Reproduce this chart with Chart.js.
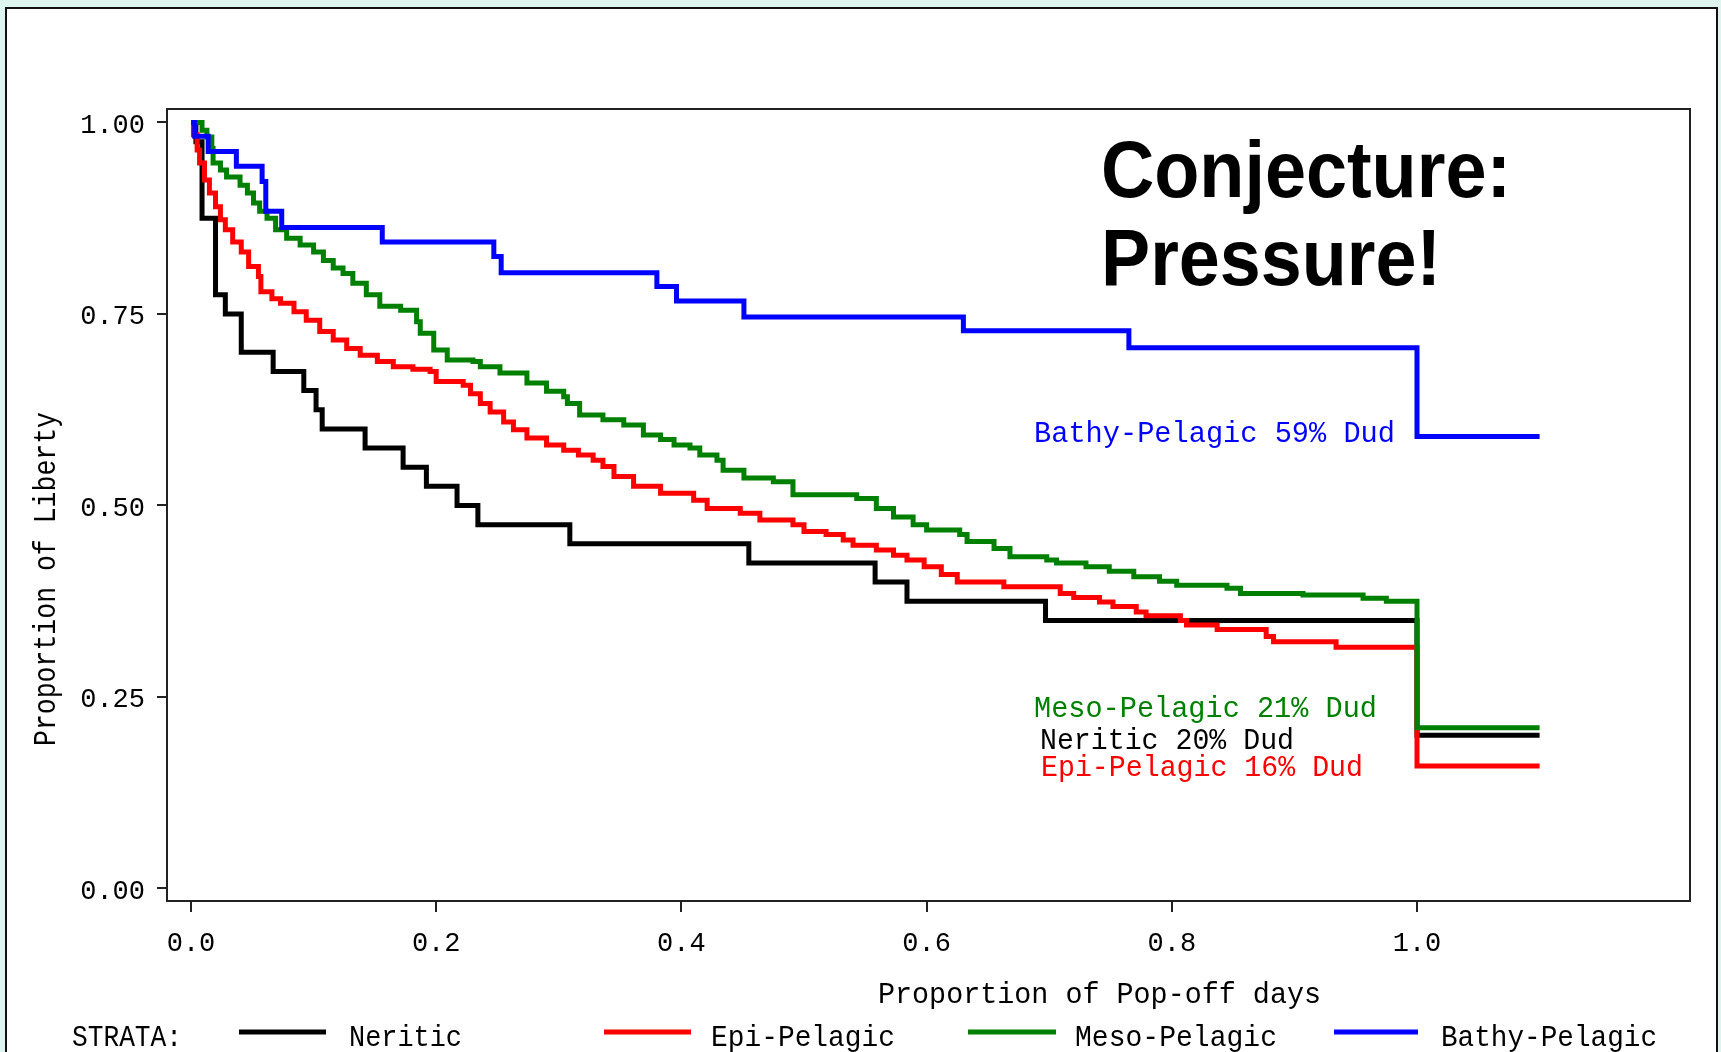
<!DOCTYPE html>
<html><head><meta charset="utf-8">
<script src="https://cdn.jsdelivr.net/npm/chart.js@4.4.1/dist/chart.umd.min.js"></script>
<style>html,body{margin:0;padding:0;background:#ddf4ef;overflow:hidden}
#wrap{position:relative;width:1721px;height:1052px}</style>
</head><body><div id="wrap"><canvas id="c" width="1721" height="1052"></canvas></div>
<script>
// ---------- data ----------
const strata = ['Neritic', 'Epi-Pelagic', 'Meso-Pelagic', 'Bathy-Pelagic'];
const strataColors = ['#000000', '#ff0000', '#008000', '#0000ff'];
const dudPct = [20, 16, 21, 59];
const xTickValues = [0, 0.2, 0.4, 0.6, 0.8, 1.0];
const yTickValues = [0, 0.25, 0.5, 0.75, 1.0];

const neriticT = [0, 0.004, 0.009, 0.020, 0.028, 0.041, 0.067, 0.092, 0.102, 0.107, 0.142, 0.173, 0.192, 0.217, 0.234, 0.309, 0.455, 0.558, 0.584, 0.697, 1.0, 1.1];
const neriticS = [1, 0.975, 0.875, 0.775, 0.75, 0.70, 0.675, 0.65, 0.625, 0.60, 0.575, 0.55, 0.525, 0.50, 0.475, 0.45, 0.425, 0.40, 0.375, 0.35, 0.20, 0.20];

const epiT = [0, 0.002, 0.005, 0.007, 0.011, 0.015, 0.020, 0.024, 0.028, 0.034, 0.041, 0.047, 0.055, 0.057, 0.066, 0.073, 0.084, 0.094, 0.105, 0.116, 0.127, 0.138, 0.152, 0.165, 0.181, 0.195, 0.200, 0.222, 0.228, 0.236, 0.244, 0.255, 0.263, 0.274, 0.290, 0.304, 0.316, 0.328, 0.336, 0.345, 0.361, 0.383, 0.410, 0.421, 0.448, 0.464, 0.491, 0.500, 0.518, 0.532, 0.540, 0.559, 0.573, 0.584, 0.598, 0.612, 0.625, 0.663, 0.709, 0.720, 0.741, 0.752, 0.771, 0.779, 0.807, 0.812, 0.837, 0.877, 0.883, 0.934, 1.0, 1.1];
const epiS = [1, 0.984, 0.964, 0.947, 0.925, 0.908, 0.890, 0.873, 0.860, 0.844, 0.831, 0.812, 0.799, 0.779, 0.770, 0.764, 0.753, 0.742, 0.727, 0.716, 0.705, 0.696, 0.688, 0.681, 0.678, 0.675, 0.662, 0.657, 0.646, 0.633, 0.622, 0.609, 0.599, 0.588, 0.579, 0.572, 0.566, 0.559, 0.551, 0.538, 0.525, 0.516, 0.507, 0.496, 0.490, 0.481, 0.475, 0.466, 0.462, 0.455, 0.448, 0.442, 0.435, 0.429, 0.420, 0.410, 0.400, 0.394, 0.385, 0.380, 0.374, 0.368, 0.361, 0.356, 0.350, 0.344, 0.338, 0.329, 0.322, 0.315, 0.16, 0.16];

const mesoT = [0, 0.009, 0.013, 0.017, 0.018, 0.024, 0.029, 0.040, 0.046, 0.051, 0.056, 0.062, 0.069, 0.078, 0.089, 0.100, 0.108, 0.116, 0.124, 0.132, 0.143, 0.154, 0.171, 0.184, 0.187, 0.198, 0.209, 0.230, 0.236, 0.252, 0.274, 0.290, 0.304, 0.307, 0.317, 0.336, 0.353, 0.369, 0.383, 0.394, 0.407, 0.415, 0.429, 0.434, 0.451, 0.475, 0.491, 0.543, 0.559, 0.573, 0.589, 0.600, 0.627, 0.633, 0.655, 0.668, 0.698, 0.706, 0.730, 0.749, 0.769, 0.790, 0.804, 0.845, 0.856, 0.907, 0.956, 0.975, 1.0, 1.1];
const mesoS = [1, 0.990, 0.981, 0.966, 0.947, 0.938, 0.929, 0.918, 0.908, 0.895, 0.884, 0.875, 0.860, 0.849, 0.840, 0.831, 0.820, 0.810, 0.803, 0.790, 0.775, 0.760, 0.755, 0.740, 0.725, 0.703, 0.690, 0.688, 0.681, 0.673, 0.660, 0.649, 0.642, 0.633, 0.618, 0.612, 0.605, 0.592, 0.586, 0.579, 0.575, 0.566, 0.559, 0.546, 0.536, 0.531, 0.514, 0.509, 0.496, 0.485, 0.475, 0.468, 0.462, 0.453, 0.444, 0.433, 0.429, 0.425, 0.420, 0.414, 0.407, 0.401, 0.396, 0.392, 0.385, 0.383, 0.379, 0.375, 0.21, 0.21];

const bathyT = [0, 0.003, 0.014, 0.037, 0.058, 0.061, 0.074, 0.156, 0.247, 0.253, 0.380, 0.396, 0.451, 0.630, 0.765, 1.0, 1.1];
const bathyS = [1, 0.982, 0.962, 0.943, 0.923, 0.884, 0.863, 0.844, 0.825, 0.804, 0.786, 0.767, 0.746, 0.728, 0.706, 0.590, 0.590];

const seriesT = [neriticT, epiT, mesoT, bathyT];
const seriesS = [neriticS, epiS, mesoS, bathyS];

// ---------- helpers ----------
function fitText(ctx, text, x, y, w, font, color, rot) {
  ctx.save();
  ctx.font = font; ctx.fillStyle = color;
  ctx.textBaseline = 'alphabetic'; ctx.textAlign = 'left';
  const m = ctx.measureText(text).width;
  ctx.translate(x, y);
  if (rot) ctx.rotate(rot);
  ctx.scale(w / m, 1);
  ctx.fillText(text, 0, 0);
  ctx.restore();
}
const MONO = '"Liberation Mono", "DejaVu Sans Mono", monospace';
const TXT = '29px ' + MONO;

const decorPlugin = {
  id: 'decor',
  beforeDraw(chart) {
    const ctx = chart.ctx;
    ctx.save();
    ctx.fillStyle = '#ddf4ef';
    ctx.fillRect(0, 0, chart.width, chart.height);
    ctx.fillStyle = '#ffffff';
    ctx.fillRect(6, 8, 1711, 1060);
    ctx.strokeStyle = '#111'; ctx.lineWidth = 2;
    ctx.beginPath(); ctx.moveTo(6, 1060); ctx.lineTo(6, 8); ctx.lineTo(1717, 8); ctx.lineTo(1717, 1060); ctx.stroke();
    ctx.restore();
  },
  beforeDatasetsDraw(chart) {
    const ctx = chart.ctx, a = chart.chartArea;
    ctx.save();
    ctx.strokeStyle = '#222'; ctx.lineWidth = 2;
    ctx.strokeRect(a.left, a.top, a.right - a.left, a.bottom - a.top);
    ctx.restore();
  },
  afterDraw(chart) {
    const ctx = chart.ctx;
    // big conjecture text
    const BIG = 'bold 80px "Liberation Sans", Arial, sans-serif';
    fitText(ctx, 'Conjecture:', 1101, 197, 410, BIG, '#000');
    fitText(ctx, 'Pressure!', 1101, 285, 340, BIG, '#000');
    // axis titles
    fitText(ctx, 'Proportion of Pop-off days', 878, 1003, 443, TXT, '#000');
    fitText(ctx, 'Proportion of Liberty', 55, 746, 334, '32px ' + MONO, '#000', -Math.PI / 2);
    // end-of-curve annotations
    const ann = [
      {i: 3, x: 1034, y: 442, w: 361},
      {i: 2, x: 1034, y: 717, w: 343},
      {i: 0, x: 1040, y: 749, w: 254},
      {i: 1, x: 1041, y: 776, w: 322}
    ];
    ann.forEach(a => fitText(ctx, strata[a.i] + ' ' + dudPct[a.i] + '% Dud', a.x, a.y, a.w, TXT, strataColors[a.i]));
    // legend
    fitText(ctx, 'STRATA:', 72, 1046, 110, TXT, '#000');
    const leg = [
      {l1: 239, l2: 326, tx: 349, tw: 113},
      {l1: 604, l2: 691, tx: 711, tw: 184},
      {l1: 968, l2: 1056, tx: 1075, tw: 202},
      {l1: 1334, l2: 1418, tx: 1441, tw: 216}
    ];
    leg.forEach((g, i) => {
      ctx.save();
      ctx.strokeStyle = strataColors[i]; ctx.lineWidth = 5;
      ctx.beginPath(); ctx.moveTo(g.l1, 1032); ctx.lineTo(g.l2, 1032); ctx.stroke();
      ctx.restore();
      fitText(ctx, strata[i], g.tx, 1046, g.tw, TXT, '#000');
    });
  }
};

const datasets = strata.map((name, i) => ({
  label: name,
  data: seriesT[i].map((t, k) => ({x: t, y: seriesS[i][k]})),
  borderColor: strataColors[i],
  backgroundColor: strataColors[i],
  borderWidth: 5,
  pointRadius: 0,
  stepped: 'before',
  tension: 0,
  fill: false,
  borderJoinStyle: 'miter',
  borderCapStyle: 'butt',
  order: 4 - i
}));

new Chart(document.getElementById('c'), {
  type: 'line',
  data: {datasets},
  options: {
    responsive: false,
    animation: false,
    events: [],
    layout: {padding: {left: 0, right: 31, top: 109, bottom: 0}},
    plugins: {legend: {display: false}, tooltip: {enabled: false}, title: {display: false}},
    scales: {
      x: {
        type: 'linear',
        min: -0.01958, max: 1.22268,
        afterBuildTicks: s => { s.ticks = xTickValues.map(v => ({value: v})); },
        afterFit: s => { s.height = 151; },
        border: {display: false},
        grid: {drawOnChartArea: false, drawTicks: true, tickLength: 11, color: '#222', lineWidth: 2},
        ticks: {
          callback: v => v.toFixed(1),
          font: {family: MONO, size: 27},
          color: '#000',
          padding: 16,
          maxRotation: 0
        }
      },
      y: {
        type: 'linear',
        min: -0.01632, max: 1.01762,
        afterBuildTicks: s => { s.ticks = yTickValues.map(v => ({value: v})); },
        afterFit: s => { s.width = 167; },
        border: {display: false},
        grid: {drawOnChartArea: false, drawTicks: true, tickLength: 10, color: '#222', lineWidth: 2},
        ticks: {
          callback: v => v.toFixed(2),
          font: {family: MONO, size: 27},
          color: '#000',
          padding: 12,
          labelOffset: 3
        }
      }
    }
  },
  plugins: [decorPlugin]
});
</script></body></html>
